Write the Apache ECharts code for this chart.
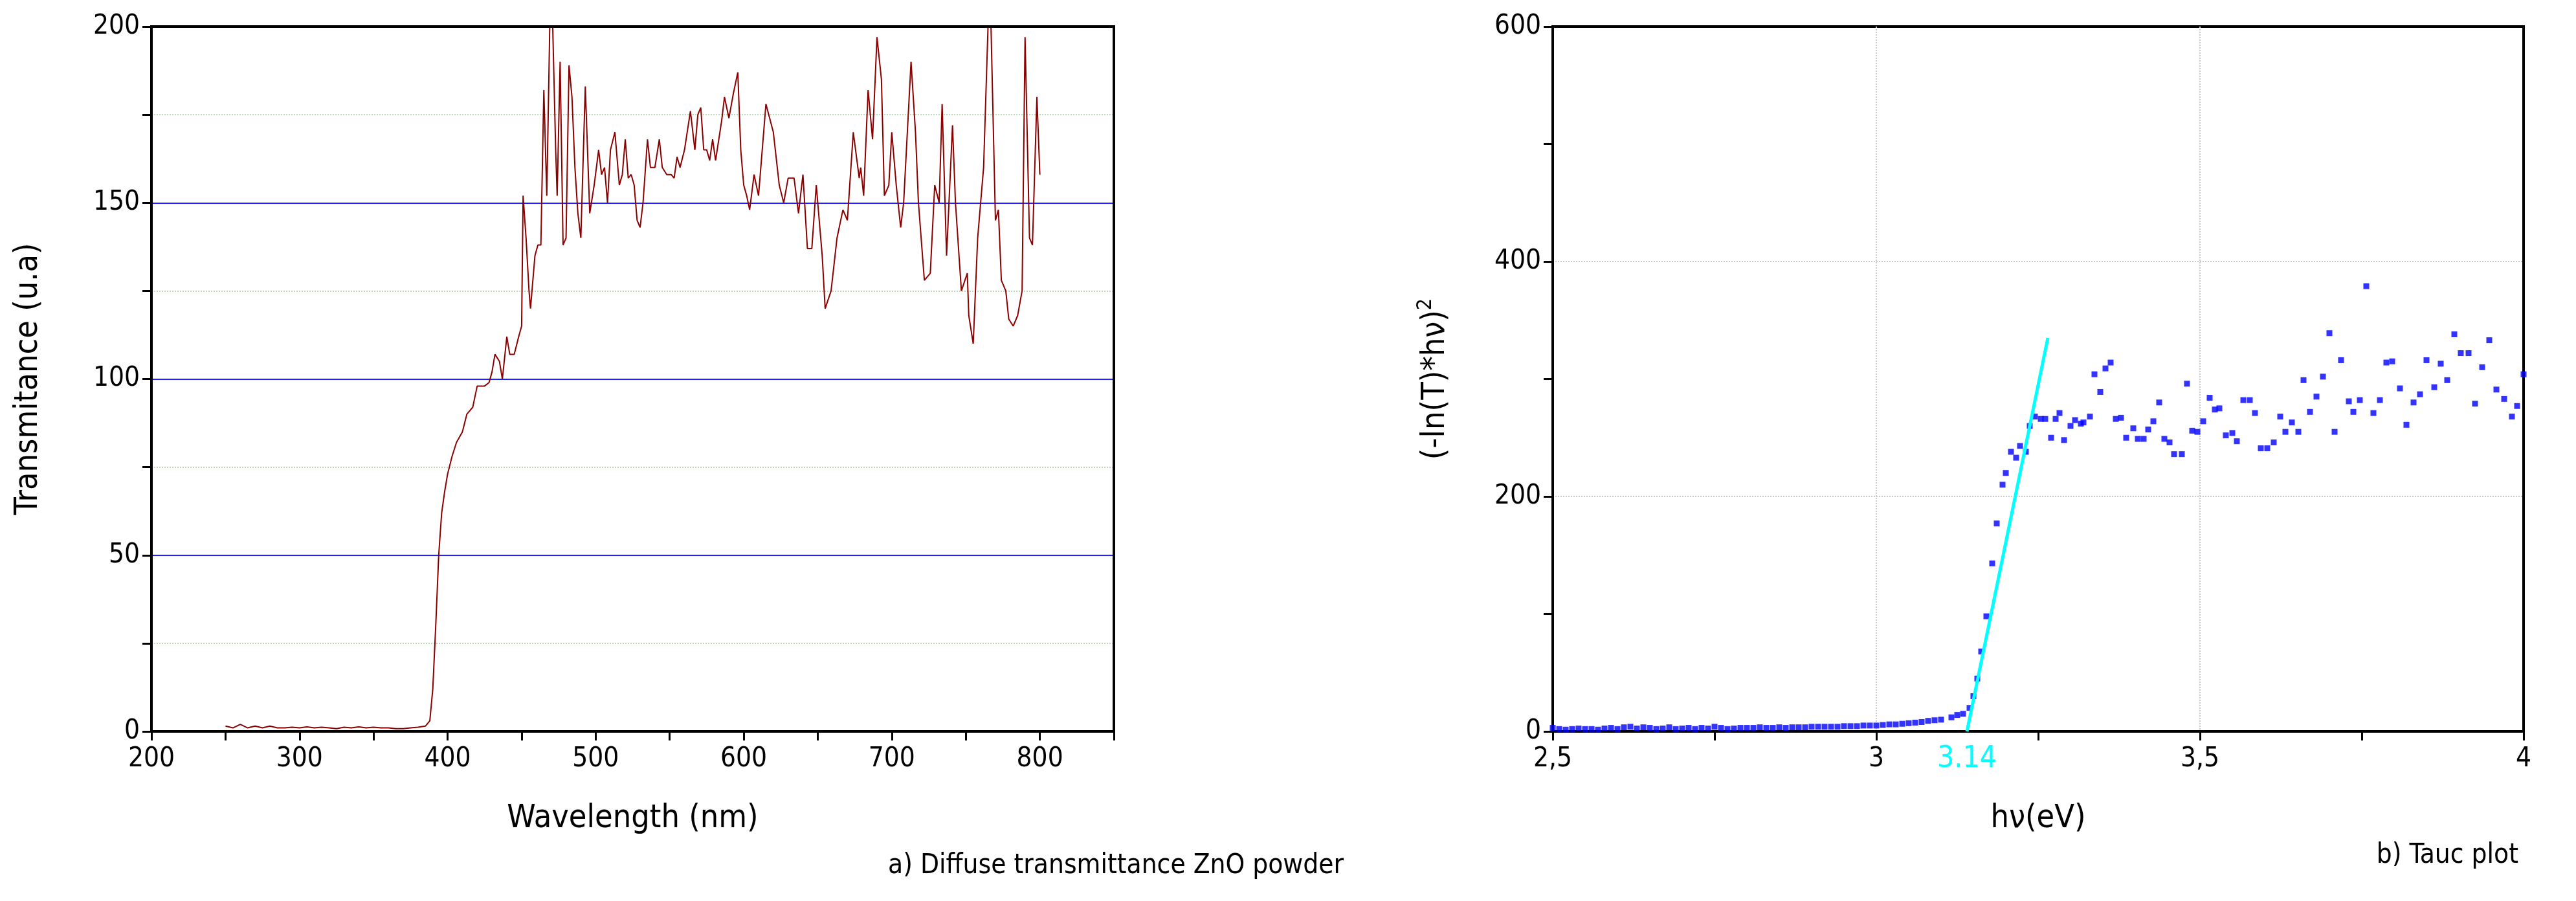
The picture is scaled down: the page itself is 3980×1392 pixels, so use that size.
<!DOCTYPE html>
<html>
<head>
<meta charset="utf-8">
<script src="https://cdn.jsdelivr.net/npm/echarts@6/dist/echarts.min.js"></script>
<style>html,body{margin:0;padding:0;background:#fff}#chart{width:3980px;height:1392px}</style>
</head>
<body>
<div id="chart"></div>
<script>
// a) transmittance spectrum, [wavelength nm, value]
var wavelength = [250,255,260,265,270,275,280,285,290,295,300,305,310,315,320,325,330,335,340,345,350,355,360,365,370,375,380,385,388,390,392,394,396,398,400,403,406,410,413,417,420,425,428,430,432,435,437,440,442,445,448,450,451,453,455,456,459,461,463,465,467,469,471,473,474,476,478,480,482,484,486,488,490,493,496,499,502,504,506,508,510,513,516,518,520,522,524,526,528,530,532,535,537,540,543,545,548,551,553,555,557,560,564,567,569,571,573,575,577,579,581,585,587,590,593,596,598,600,602,604,607,610,615,620,624,627,630,634,637,640,643,646,649,653,655,659,663,667,670,674,678,679,681,684,687,690,693,695,698,700,703,706,708,713,716,718,722,726,729,732,734,737,741,743,747,751,752,755,758,762,765,767,770,772,774,777,779,782,785,788,790,793,795,798,800];
var transmit = [1.5,1,2,1,1.5,1,1.5,1,1,1.2,1,1.3,1,1.2,1,0.8,1.2,1,1.3,1,1.2,1,1,0.8,0.8,1,1.2,1.5,3,12,30,50,62,68,73,78,82,85,90,92,98,98,99,102,107,105,100,112,107,107,112,115,152,140,125,120,135,138,138,182,152,200,200,165,152,190,138,140,189,180,160,147,140,183,147,155,165,158,160,150,165,170,155,158,168,157,158,155,145,143,150,168,160,160,168,160,158,158,157,163,160,165,176,165,175,177,165,165,162,168,162,173,180,174,181,187,165,155,152,148,158,152,178,170,155,150,157,157,147,158,137,137,155,135,120,125,140,148,145,170,157,160,152,182,168,197,185,152,155,170,155,143,150,190,170,150,128,130,155,150,178,135,172,150,125,130,118,110,140,160,200,200,145,148,128,125,117,115,118,125,197,140,138,180,158];
// b) Tauc plot, [hv eV, value]
var hv = [2.50,2.51,2.52,2.53,2.54,2.55,2.56,2.57,2.58,2.59,2.60,2.61,2.62,2.63,2.64,2.65,2.66,2.67,2.68,2.69,2.70,2.71,2.72,2.73,2.74,2.75,2.76,2.77,2.78,2.79,2.80,2.81,2.82,2.83,2.84,2.85,2.86,2.87,2.88,2.89,2.90,2.91,2.92,2.93,2.94,2.95,2.96,2.97,2.98,2.99,3.00,3.01,3.02,3.03,3.04,3.05,3.06,3.07,3.08,3.09,3.10,3.116,3.125,3.134,3.144,3.15,3.156,3.162,3.17,3.179,3.186,3.195,3.2,3.208,3.216,3.222,3.231,3.237,3.245,3.254,3.261,3.27,3.277,3.283,3.29,3.3,3.307,3.316,3.32,3.33,3.337,3.346,3.354,3.362,3.37,3.378,3.386,3.397,3.404,3.413,3.42,3.428,3.437,3.445,3.453,3.46,3.472,3.48,3.488,3.496,3.505,3.515,3.523,3.53,3.54,3.55,3.557,3.567,3.577,3.585,3.594,3.604,3.614,3.624,3.632,3.642,3.652,3.66,3.67,3.68,3.69,3.7,3.708,3.718,3.73,3.737,3.747,3.757,3.768,3.778,3.788,3.797,3.809,3.819,3.83,3.84,3.85,3.862,3.872,3.882,3.893,3.903,3.915,3.925,3.936,3.947,3.958,3.97,3.982,3.99,4.0];
var tauc = [3,2,1.5,2,2.5,2,2,1.5,2.5,3,2,3.5,4,2.5,3.5,3,2,2.5,3.5,2,2.5,3,2,3,2.5,4,3,2,2.5,3,3,3,3.5,3,3,3.5,3,3.5,3.5,3.5,4,4,4,4,4,4.5,4.5,4.5,5,5,5,5.5,6,6,6.5,7,7.5,8,9,9.5,10,12,14,15,20,30,45,68,98,143,177,210,220,238,233,243,238,260,268,266,266,250,266,271,248,260,265,262,263,268,304,289,309,314,266,267,250,258,249,249,257,264,280,249,246,236,236,296,256,255,264,284,274,275,252,254,247,282,282,271,241,241,246,268,255,263,255,299,272,285,302,339,255,316,281,272,282,379,271,282,314,315,292,261,280,287,316,293,313,299,338,322,322,279,310,333,291,283,268,277,304];
// linear fit for the gap
var fitX = [3.14,3.265];
var fitY = [0,335];

function pairs(a,b){ return a.map(function(v,i){ return [v,b[i]]; }); }

var font = '"Liberation Sans Narrow","DejaVu Sans Condensed","Liberation Sans",sans-serif';
var txt = {fontFamily: font, fontSize: 42, color: '#000'};

var chart = echarts.init(document.getElementById('chart'));
var option = {
    animation: false,
    textStyle: {fontFamily: font},
    title: [
        {text: 'a) Diffuse transmittance ZnO powder', right: 1899, top: 1312, textStyle: {fontFamily: font, fontSize: 42, fontWeight: 'normal', color: '#000'}},
        {text: 'b) Tauc plot', right: 84, top: 1296, textStyle: {fontFamily: font, fontSize: 42, fontWeight: 'normal', color: '#000'}}
    ],
    grid: [
        {left: 234, top: 41, width: 1487, height: 1089, show: true, borderColor: '#000', borderWidth: 4, z: 5},
        {left: 2399, top: 41, width: 1500, height: 1089, show: true, borderColor: '#000', borderWidth: 4}
    ],
    xAxis: [
        {
            gridIndex: 0, type: 'value', min: 200, max: 850, interval: 100,
            name: 'Wavelength (nm)', nameLocation: 'middle', nameGap: 110,
            nameTextStyle: {fontFamily: font, fontSize: 50, color: '#000'},
            axisLine: {lineStyle: {color: '#000', width: 4}},
            axisTick: {length: 14, lineStyle: {color: '#000', width: 3}},
            minorTick: {show: true, splitNumber: 2, length: 14, lineStyle: {color: '#000', width: 3}},
            axisLabel: Object.assign({margin: 22, showMaxLabel: false}, txt),
            splitLine: {show: false}
        },
        {
            gridIndex: 1, type: 'value', min: 2.5, max: 4, interval: 0.5,
            name: 'hν(eV)', nameLocation: 'middle', nameGap: 110,
            nameTextStyle: {fontFamily: font, fontSize: 50, color: '#000'},
            axisLine: {lineStyle: {color: '#000', width: 4}},
            axisTick: {length: 14, lineStyle: {color: '#000', width: 3}},
            minorTick: {show: true, splitNumber: 2, length: 14, lineStyle: {color: '#000', width: 3}},
            axisLabel: Object.assign({margin: 22, formatter: function(v){ return String(v).replace('.', ','); }}, txt),
            splitLine: {show: true, showMinLine: false, showMaxLine: false, lineStyle: {color: '#c8c8c8', type: 'dotted', width: 2}}
        }
    ],
    yAxis: [
        {
            gridIndex: 0, type: 'value', min: 0, max: 200, interval: 50,
            name: 'Transmitance (u.a)', nameLocation: 'middle', nameGap: 165,
            nameTextStyle: {fontFamily: font, fontSize: 50, color: '#000'},
            axisLine: {lineStyle: {color: '#000', width: 4}},
            axisTick: {length: 14, lineStyle: {color: '#000', width: 3}},
            minorTick: {show: true, splitNumber: 2, length: 14, lineStyle: {color: '#000', width: 3}},
            axisLabel: Object.assign({margin: 18}, txt),
            splitLine: {show: true, showMinLine: false, showMaxLine: false, lineStyle: {color: '#2020ff', width: 2}},
            minorSplitLine: {show: true, lineStyle: {color: '#b8d8b8', type: 'dotted', width: 2}}
        },
        {
            gridIndex: 1, type: 'value', min: 0, max: 600, interval: 200,
            name: '{b|(-ln(T)*hν)}{s|2}', nameLocation: 'middle', nameGap: 150,
            nameTextStyle: {rich: {b: {fontFamily: font, fontSize: 50, color: '#000'}, s: {fontFamily: font, fontSize: 32, color: '#000', verticalAlign: 'top', padding: [0, 0, 30, 0]}}},
            axisLine: {lineStyle: {color: '#000', width: 4}},
            axisTick: {length: 14, lineStyle: {color: '#000', width: 3}},
            minorTick: {show: true, splitNumber: 2, length: 14, lineStyle: {color: '#000', width: 3}},
            axisLabel: Object.assign({margin: 18}, txt),
            splitLine: {show: true, showMinLine: false, showMaxLine: false, lineStyle: {color: '#c8c8c8', type: 'dotted', width: 2}}
        }
    ],
    series: [
        {
            type: 'line', xAxisIndex: 0, yAxisIndex: 0, data: pairs(wavelength, transmit),
            showSymbol: false, lineStyle: {color: '#8b0000', width: 2}
        },
        {
            type: 'scatter', xAxisIndex: 1, yAxisIndex: 1, data: pairs(hv, tauc),
            symbol: 'rect', symbolSize: 9, itemStyle: {color: '#0000ff'}
        },
        {
            type: 'line', xAxisIndex: 1, yAxisIndex: 1, data: pairs(fitX, fitY),
            showSymbol: true, symbolSize: 0, lineStyle: {color: '#00ffff', width: 5},
            label: {show: true, position: 'bottom', distance: 20, color: '#00ffff', fontFamily: font, fontSize: 46,
                formatter: function(p){ return p.dataIndex === 0 ? '3.14' : ''; }},
            z: 3
        }
    ]
};
chart.setOption(option);
</script>
</body>
</html>
